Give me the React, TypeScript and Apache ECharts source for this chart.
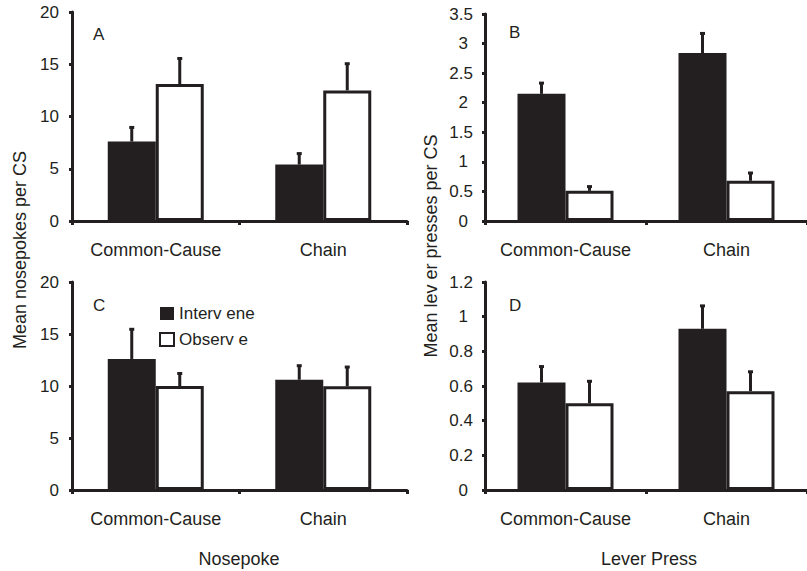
import React, { useEffect, useRef } from "react";
import * as echarts from "echarts";

const categories = ["Common-Cause", "Chain"];

// Panel A: nosepokes (top left)
const aIntervene = [7.6, 5.4];
const aInterveneErr = [1.4, 1.1];
const aObserve = [13.1, 12.5];
const aObserveErr = [2.5, 2.6];

// Panel B: lever presses (top right)
const bIntervene = [2.15, 2.84];
const bInterveneErr = [0.19, 0.34];
const bObserve = [0.51, 0.68];
const bObserveErr = [0.08, 0.14];

// Panel C: nosepokes (bottom left)
const cIntervene = [12.6, 10.6];
const cInterveneErr = [2.9, 1.4];
const cObserve = [10.0, 9.97];
const cObserveErr = [1.25, 1.9];

// Panel D: lever presses (bottom right)
const dIntervene = [0.62, 0.93];
const dInterveneErr = [0.095, 0.135];
const dObserve = [0.5, 0.57];
const dObserveErr = [0.13, 0.115];

// y axis ranges [max, interval]
const axisA = [20, 5];
const axisB = [3.5, 0.5];
const axisC = [20, 5];
const axisD = [1.2, 0.2];

const panelLetters = ["A", "B", "C", "D"];

const INK = "#231f20";
const FONT = "'Liberation Sans', Arial, sans-serif";

export default function App() {
  const ref = useRef<HTMLDivElement>(null);

  useEffect(() => {
    document.body.style.margin = "0";
    if (!ref.current) return;
    const chart = echarts.init(ref.current, null, { renderer: "svg" });

    const grids = [
      { left: 72, top: 12, width: 335, height: 209 },
      { left: 485, top: 14, width: 325, height: 207 },
      { left: 72, top: 282, width: 335, height: 208 },
      { left: 485, top: 282, width: 325, height: 208 },
    ];
    const axes = [axisA, axisB, axisC, axisD];
    const panels = [
      [aIntervene, aInterveneErr, aObserve, aObserveErr],
      [bIntervene, bInterveneErr, bObserve, bObserveErr],
      [cIntervene, cInterveneErr, cObserve, cObserveErr],
      [dIntervene, dInterveneErr, dObserve, dObserveErr],
    ];

    const xAxis = grids.map((_, i) => ({
      type: "category",
      gridIndex: i,
      data: categories,
      axisLine: { lineStyle: { color: INK, width: 3 } },
      axisTick: { show: true, length: 4, lineStyle: { color: INK, width: 3 } },
      axisLabel: { color: INK, fontSize: 18, fontFamily: FONT, margin: 20, interval: 0 },
      splitLine: { show: false },
    }));

    const yAxis = grids.map((_, i) => {
      const decimal = i === 1 || i === 3;
      return {
        type: "value",
        gridIndex: i,
        min: 0,
        max: axes[i][0],
        interval: axes[i][1],
        axisLine: { show: true, lineStyle: { color: INK, width: 3 } },
        axisTick: { show: true, length: 3, lineStyle: { color: INK, width: 3 } },
        splitLine: { show: false },
        axisLabel: {
          color: INK,
          fontSize: 17,
          fontFamily: FONT,
          margin: decimal ? 12 : 13,
          formatter: decimal
            ? (v: number) => (Number.isInteger(v) ? `{i|${v}}` : `${v}`)
            : (v: number) => `${v}`,
          rich: {
            i: { padding: [0, 5, 0, 0], fontSize: 17, fontFamily: FONT, color: INK },
          },
        },
      };
    });

    const errSeries = (gi: number, vals: number[], errs: number[], side: number) => ({
      type: "custom",
      xAxisIndex: gi,
      yAxisIndex: gi,
      clip: false,
      z: 5,
      encode: { x: 0, y: [1, 2] },
      data: vals.map((v, k) => [k, v, v + errs[k]]),
      renderItem: (params: any, api: any) => {
        const c = api.value(0);
        const base = api.coord([c, api.value(1)]);
        const top = api.coord([c, api.value(2)]);
        const cx = base[0] + side * 24;
        return {
          type: "group",
          children: [
            {
              type: "line",
              shape: { x1: cx, y1: base[1], x2: cx, y2: top[1] },
              style: { stroke: INK, lineWidth: 3 },
            },
            {
              type: "rect",
              shape: { x: cx - 2.5, y: top[1] - 1, width: 5, height: 3 },
              style: { fill: INK },
            },
          ],
        };
      },
    });

    const series: any[] = [];
    panels.forEach((p, gi) => {
      series.push({
        type: "bar",
        name: "Intervene",
        xAxisIndex: gi,
        yAxisIndex: gi,
        barWidth: 48,
        barGap: "0%",
        data: p[0],
        itemStyle: { color: INK },
      });
      series.push({
        type: "bar",
        name: "Observe",
        xAxisIndex: gi,
        yAxisIndex: gi,
        barWidth: 48,
        barGap: "0%",
        data: p[2],
        itemStyle: { color: "#ffffff", borderColor: INK, borderWidth: 3 },
      });
      series.push(errSeries(gi, p[0], p[1], -1));
      series.push(errSeries(gi, p[2], p[3], 1));
    });

    const letterPos = [
      [93, 34],
      [509, 32],
      [93, 305],
      [509, 305],
    ];

    const textStyle = (text: string, size: number, align = "left") => ({
      text,
      fill: INK,
      fontSize: size,
      fontFamily: FONT,
      textAlign: align,
      textVerticalAlign: "middle",
    });

    const graphic: any[] = [
      ...panelLetters.map((t, i) => ({
        type: "text",
        x: letterPos[i][0],
        y: letterPos[i][1],
        style: textStyle(t, 17),
      })),
      {
        type: "text",
        x: 20,
        y: 250,
        rotation: Math.PI / 2,
        style: textStyle("Mean nosepokes per CS", 18, "center"),
      },
      {
        type: "text",
        x: 431,
        y: 246,
        rotation: Math.PI / 2,
        style: textStyle("Mean lev er presses per CS", 18, "center"),
      },
      {
        type: "text",
        x: 239,
        y: 559,
        style: textStyle("Nosepoke", 18, "center"),
      },
      {
        type: "text",
        x: 649,
        y: 559,
        style: textStyle("Lever Press", 18, "center"),
      },
    ];

    chart.setOption({
      animation: false,
      backgroundColor: "#ffffff",
      grid: grids,
      xAxis,
      yAxis,
      series,
      legend: {
        data: [
          { name: "Intervene" },
          { name: "Observe", itemStyle: { borderWidth: 2 } },
        ],
        orient: "vertical",
        left: 159,
        top: 305,
        padding: 0,
        itemGap: 9,
        itemWidth: 14,
        itemHeight: 13,
        icon: "rect",
        selectedMode: false,
        formatter: (n: string) => (n === "Intervene" ? "Interv ene" : "Observ e"),
        textStyle: { color: INK, fontSize: 17, fontFamily: FONT },
      },
      graphic,
    });

    return () => chart.dispose();
  }, []);

  return (
    <div
      ref={ref}
      style={{ position: "fixed", left: 0, top: 0, width: 807, height: 571, background: "#fff" }}
    />
  );
}
